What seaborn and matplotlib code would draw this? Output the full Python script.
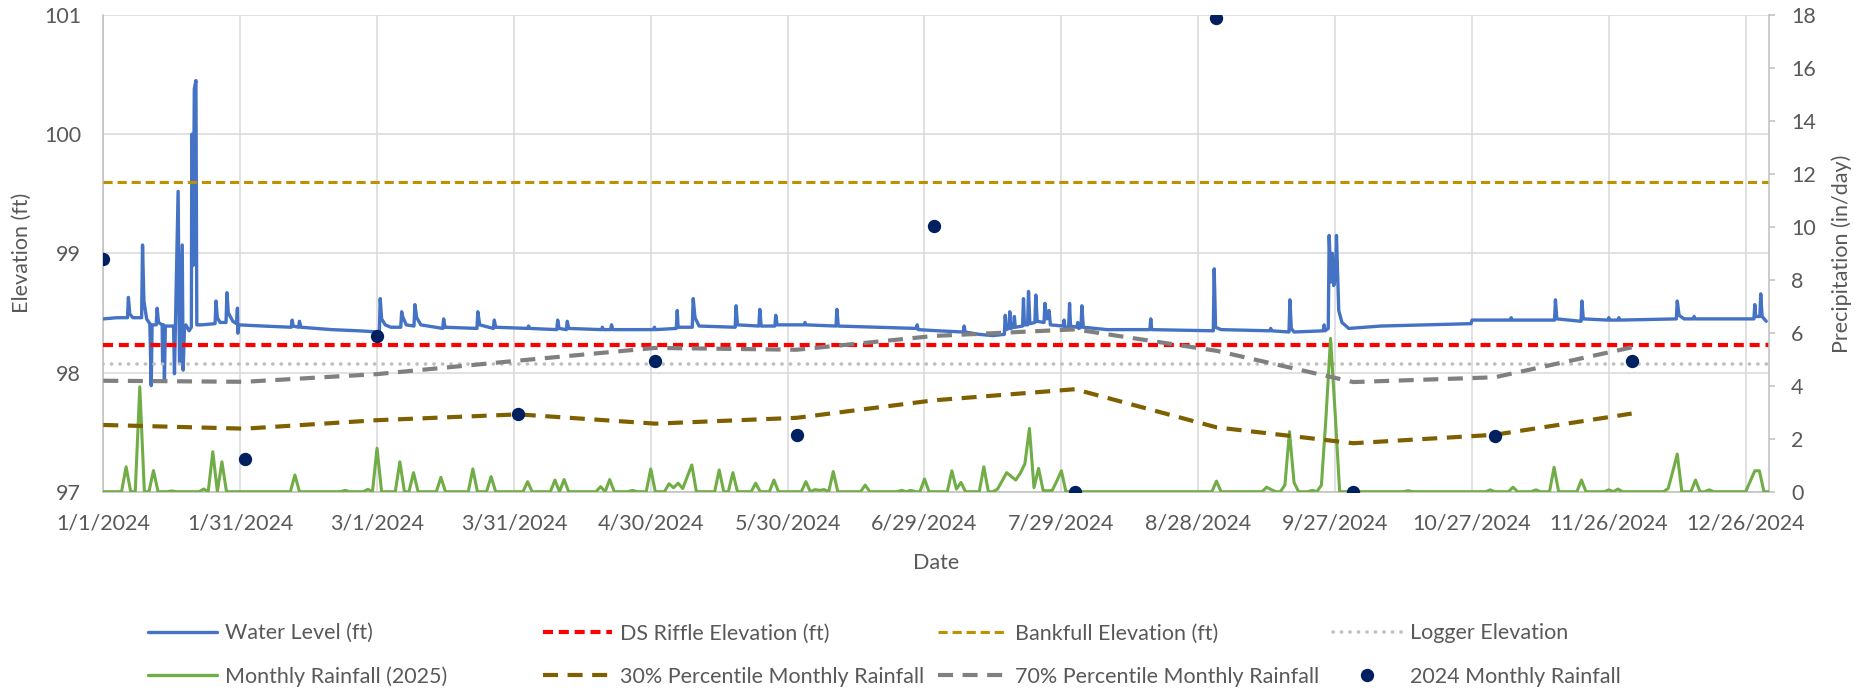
import numpy as np
import pandas as pd
import matplotlib
matplotlib.use("Agg")
import matplotlib.pyplot as plt
from matplotlib.lines import Line2D
from matplotlib.ticker import FuncFormatter
import seaborn as sns

# ---------------------------------------------------------------- data
START = pd.Timestamp("2024-01-01")
END = pd.Timestamp("2024-12-31")

# Logger water level: (days since 1/1/2024, elevation in ft)
wl_day = [
    0.0, 3.0, 5.3, 5.5, 5.8, 6.5,
    8.4, 8.6, 8.9, 9.5, 10.2, 10.5, 10.7, 11.6, 11.8, 12.1,
    12.9, 13.0, 13.2, 13.4, 13.6, 15.4, 15.6, 16.4, 16.7, 17.3, 17.5, 17.8, 18.1,
    18.8, 19.3, 19.4, 19.7, 19.95, 20.3, 20.5,
    21.5, 24.5, 24.7, 25.0, 25.6, 26.9, 27.1, 27.4, 28.4,
    29.2, 29.4, 29.5, 29.7,
    35.0, 41.2, 41.4, 41.6, 42.8, 43.0, 43.3,
    50.0, 56.0, 60.5, 60.7, 61.0, 61.8, 63.0,
    65.2, 65.4, 65.6, 66.4, 68.1, 68.3, 68.7, 69.6,
    74.4, 74.6, 74.9, 81.9, 82.1, 82.5, 85.5, 85.7, 86.0,
    93.0, 93.2, 93.5, 99.4, 99.6, 99.9, 101.5, 101.7, 102.0,
    109.2, 109.4, 109.6, 111.2, 111.4, 111.7, 120.6, 120.8, 121.0,
    125.6, 125.8, 126.0, 129.1, 129.3, 129.7, 130.6,
    138.5, 138.7, 139.0, 143.7, 143.9, 144.2, 147.2, 147.4, 147.7,
    153.6, 153.8, 154.0, 160.6, 160.8, 161.1,
    170.0, 178.2, 178.4, 178.6, 183.0, 188.5, 188.7, 188.9,
    192.0, 195.0, 197.5, 197.7, 197.9, 198.5, 198.7, 198.9,
    199.5, 199.7, 199.9, 201.5, 201.7, 201.9, 202.6, 202.8, 203.1,
    204.2, 204.4, 204.7, 206.2, 206.4, 206.8, 207.3, 207.6,
    210.4, 210.6, 210.8, 211.6, 211.8, 212.0, 213.4, 213.6, 213.8,
    214.3, 214.5, 214.8, 220.0, 229.4, 229.6, 229.8,
    243.3, 243.5, 243.8, 245.0, 255.7, 255.9, 256.1,
    259.9, 260.1, 260.4, 261.0, 267.4, 267.6, 267.8,
    268.5, 268.7, 269.1, 269.4, 269.7, 270.1, 270.3, 270.8, 271.5, 273.0,
    280.0, 299.8, 300.0, 308.4, 308.6, 308.8,
    318.1, 318.3, 318.6, 323.9, 324.1, 324.4,
    329.8, 330.0, 330.2, 332.0, 332.2, 332.4,
    344.8, 345.0, 345.4, 346.5, 348.5, 348.7, 348.9,
    361.8, 362.0, 362.2, 363.1, 363.3, 363.6, 364.5,
]
wl_ft = [
    98.45, 98.46, 98.46, 98.63, 98.49, 98.46,
    98.46, 99.07, 98.60, 98.45, 98.41, 97.89, 98.40, 98.40, 98.54, 98.42,
    98.40, 98.08, 98.40, 97.94, 98.39, 98.39, 97.99, 99.52, 98.08, 99.07, 98.02, 98.38, 98.40,
    98.35, 98.38, 100.00, 98.90, 100.38, 100.45, 98.40,
    98.40, 98.41, 98.60, 98.46, 98.42, 98.42, 98.67, 98.50, 98.43,
    98.41, 98.54, 98.33, 98.40,
    98.39, 98.38, 98.44, 98.39, 98.38, 98.43, 98.38,
    98.36, 98.35, 98.34, 98.62, 98.45, 98.40, 98.38,
    98.38, 98.51, 98.47, 98.40, 98.39, 98.57, 98.46, 98.40,
    98.37, 98.45, 98.38, 98.37, 98.51, 98.40, 98.37, 98.44, 98.38,
    98.37, 98.39, 98.37, 98.36, 98.44, 98.37, 98.36, 98.43, 98.37,
    98.36, 98.38, 98.36, 98.36, 98.40, 98.36, 98.36, 98.38, 98.36,
    98.37, 98.52, 98.38, 98.38, 98.62, 98.46, 98.39,
    98.38, 98.56, 98.40, 98.39, 98.53, 98.39, 98.39, 98.48, 98.40,
    98.40, 98.42, 98.40, 98.39, 98.53, 98.39,
    98.38, 98.37, 98.40, 98.36, 98.35, 98.34, 98.39, 98.34,
    98.32, 98.31, 98.32, 98.48, 98.36, 98.37, 98.51, 98.37,
    98.38, 98.47, 98.38, 98.39, 98.62, 98.40, 98.40, 98.68, 98.41,
    98.42, 98.65, 98.43, 98.42, 98.58, 98.45, 98.52, 98.40,
    98.39, 98.44, 98.38, 98.38, 98.58, 98.39, 98.38, 98.42, 98.37,
    98.38, 98.56, 98.38, 98.36, 98.36, 98.45, 98.36,
    98.35, 98.87, 98.38, 98.36, 98.35, 98.37, 98.35,
    98.34, 98.61, 98.37, 98.34, 98.35, 98.40, 98.35,
    98.37, 99.15, 98.76, 99.00, 98.73, 98.80, 99.15, 98.52, 98.42, 98.37,
    98.39, 98.41, 98.44, 98.44, 98.46, 98.44,
    98.44, 98.61, 98.45, 98.43, 98.60, 98.45,
    98.44, 98.46, 98.44, 98.44, 98.46, 98.44,
    98.45, 98.60, 98.48, 98.45, 98.45, 98.47, 98.45,
    98.45, 98.57, 98.47, 98.47, 98.66, 98.47, 98.43,
]

# Reference elevations (ft)
riffle_elev = 98.23
bankfull_elev = 99.60
logger_elev = 98.07

# Daily rainfall (in/day): days since 1/1/2024 with rain; all other days are 0
rain_day = [
    5, 8, 11, 15, 22, 24, 26, 42, 53, 58, 60,
    65, 68, 74, 81, 85, 93, 99, 101, 109, 111, 116, 120,
    124, 125, 126, 127, 128, 129, 135, 138, 143, 147, 154, 156, 157, 158,
    160, 167, 175, 177, 180, 186, 187, 188, 193, 196, 197, 198, 199, 200,
    201, 202, 203, 204, 205, 206, 207, 208, 209, 210,
    244, 255, 256, 259, 260, 261, 265, 267, 268, 269, 270,
    286, 304, 309, 314, 318, 324, 330, 332, 343, 344, 345, 349, 352,
    361, 362, 363,
]
rain_in = [
    0.94, 3.96, 0.80, 0.03, 0.10, 1.51, 1.13, 0.63, 0.05, 0.09, 1.64,
    1.13, 0.72, 0.54, 0.86, 0.57, 0.38, 0.44, 0.46, 0.19, 0.46, 0.05, 0.86,
    0.30, 0.15, 0.32, 0.12, 0.56, 1.01, 0.82, 0.72, 0.32, 0.44, 0.38, 0.08, 0.05, 0.08,
    0.76, 0.25, 0.05, 0.05, 0.48, 0.79, 0.10, 0.35, 0.94, 0.10, 0.40, 0.72, 0.58, 0.44,
    0.70, 1.05, 2.39, 0.15, 0.88, 0.05, 0.03, 0.05, 0.40, 0.79,
    0.40, 0.17, 0.08, 0.25, 2.27, 0.35, 0.05, 0.25, 2.80, 5.79, 3.00,
    0.04, 0.07, 0.17, 0.07, 0.92, 0.44, 0.07, 0.10, 0.12, 0.75, 1.42, 0.44, 0.07,
    0.40, 0.79, 0.79,
]

# Monthly statistics, plotted on the first of each month (in)
month_start = pd.date_range("2024-01-01", periods=12, freq="MS")
rain_2024 = [8.78, 1.23, 5.88, 2.92, 4.95, 2.14, 10.03, 0.0, 17.9, 0.0, 2.10, 4.93]
pct30 = [2.52, 2.38, 2.70, 2.92, 2.57, 2.79, 3.45, 3.87, 2.43, 1.83, 2.15, 2.95]
pct70 = [4.19, 4.15, 4.44, 4.95, 5.43, 5.36, 5.88, 6.13, 5.32, 4.14, 4.32, 5.45]

elev_ticks = [97, 98, 99, 100, 101]
precip_ticks = list(range(0, 19, 2))
date_ticks = pd.date_range(START, periods=13, freq="30D")

# ---------------------------------------------------------------- frames
wl_df = pd.DataFrame({"Date": START + pd.to_timedelta(wl_day, unit="D"),
                      "Level": wl_ft})
daily_dates = pd.date_range(START, END, freq="D")
rain_series = pd.Series(rain_in, index=START + pd.to_timedelta(rain_day, unit="D"))
rain_df = pd.DataFrame({"Date": daily_dates,
                        "Rain": rain_series.reindex(daily_dates, fill_value=0.0).values})
monthly_df = pd.DataFrame({"Date": month_start, "Rain2024": rain_2024,
                           "P30": pct30, "P70": pct70})

# ---------------------------------------------------------------- style
sns.set_theme(style="white")
plt.rcParams["font.family"] = ["Lato", "DejaVu Sans"]
TXT = "#595959"
GRID = "#D9D9D9"
AXIS = "#BFBFBF"
FS = 15.5

C_WL = "#4472C4"
C_RAIN = "#70AD47"
C_RIFFLE = "#FF0000"
C_BANK = "#BF9000"
C_LOGGER = "#BFBFBF"
C_P30 = "#7F6000"
C_P70 = "#808080"
C_DOT = "#002060"

LS_RIFFLE = (0, (2.4, 1.4))
LS_BANK = (0, (3.0, 1.6))
LS_LOGGER = (0, (0.05, 2.3))
LS_PCT = (0, (3.6, 2.3))

W, H = 1871, 692
fig = plt.figure(figsize=(W / 100, H / 100), dpi=100)
left, right, top, bottom = 103.3, 1768.5, 15.0, 491.7
ax = fig.add_axes([left / W, 1 - bottom / H, (right - left) / W, (bottom - top) / H])
ax2 = ax.twinx()

# ---------------------------------------------------------------- primary axis
sns.lineplot(data=wl_df, x="Date", y="Level", ax=ax, color=C_WL, lw=2.4,
             estimator=None, sort=False, zorder=3)
ax.axhline(riffle_elev, color=C_RIFFLE, lw=3.0, ls=LS_RIFFLE, zorder=3)
ax.axhline(bankfull_elev, color=C_BANK, lw=2.2, ls=LS_BANK, zorder=3)
ax.axhline(logger_elev, color=C_LOGGER, lw=2.6, ls=LS_LOGGER,
           dash_capstyle="round", zorder=3)

ax.set_xlim(START, END)
ax.set_ylim(97, 101)
ax.set_yticks(elev_ticks)
ax.set_xticks(date_ticks)
ax.xaxis.set_major_formatter(FuncFormatter(
    lambda v, _: (lambda d: f"{d.month}/{d.day}/{d.year}")(pd.Timestamp(
        matplotlib.dates.num2date(v)).tz_localize(None))))
ax.grid(True, color=GRID, lw=1.1, zorder=0)
ax.set_axisbelow(True)
for s in ["top", "right"]:
    ax.spines[s].set_visible(False)
for s in ["left", "bottom"]:
    ax.spines[s].set_color(AXIS)
    ax.spines[s].set_linewidth(1.1)
ax.tick_params(axis="x", length=0, pad=16, labelsize=FS, labelcolor=TXT)
ax.tick_params(axis="y", length=0, pad=16, labelsize=FS, labelcolor=TXT)
ax.set_xlabel("Date", fontsize=FS, color=TXT)
ax.set_ylabel("Elevation (ft)", fontsize=FS, color=TXT)
ax.xaxis.set_label_coords(0.5, (bottom - 563) / (bottom - top))
ax.xaxis.label.set_va("center")
ax.yaxis.set_label_coords((22 - left) / (right - left), 0.5)
ax.yaxis.label.set_va("center")
ax.yaxis.label.set_ha("center")

# ---------------------------------------------------------------- secondary axis
sns.lineplot(data=rain_df, x="Date", y="Rain", ax=ax2, color=C_RAIN, lw=2.2,
             estimator=None, sort=False, zorder=3)
sns.lineplot(data=monthly_df, x="Date", y="P30", ax=ax2, color=C_P30, lw=3.0,
             ls=LS_PCT, estimator=None, zorder=4)
sns.lineplot(data=monthly_df, x="Date", y="P70", ax=ax2, color=C_P70, lw=3.0,
             ls=LS_PCT, estimator=None, zorder=4)
sns.scatterplot(data=monthly_df, x="Date", y="Rain2024", ax=ax2, color=C_DOT,
                s=92, linewidth=0, zorder=5)

ax2.set_xlim(START, END)
ax2.set_ylim(0, 18)
ax2.set_yticks(precip_ticks)
ax2.grid(False)
for s in ["top", "left", "bottom"]:
    ax2.spines[s].set_visible(False)
ax2.spines["right"].set_color(AXIS)
ax2.spines["right"].set_linewidth(1.1)
ax2.tick_params(axis="y", length=4.3, width=1.1, color=AXIS, pad=12,
                labelsize=FS, labelcolor=TXT)
ax2.set_ylabel("Precipitation (in/day)", fontsize=FS, color=TXT)
ax2.yaxis.set_label_coords((1842 - left) / (right - left), 0.5)
ax2.yaxis.label.set_va("center")
ax2.yaxis.label.set_ha("center")

# ---------------------------------------------------------------- legend
h_wl = Line2D([], [], color=C_WL, lw=2.4)
h_rain = Line2D([], [], color=C_RAIN, lw=2.4)
h_riffle = Line2D([], [], color=C_RIFFLE, lw=3.0, ls=LS_RIFFLE)
h_p30 = Line2D([], [], color=C_P30, lw=3.0, ls=LS_PCT)
h_bank = Line2D([], [], color=C_BANK, lw=2.2, ls=LS_BANK)
h_p70 = Line2D([], [], color=C_P70, lw=3.0, ls=LS_PCT)
h_logger = Line2D([], [], color=C_LOGGER, lw=2.6, ls=LS_LOGGER, dash_capstyle="round")
h_dot = Line2D([], [], ls="none", marker="o", ms=9.6, color=C_DOT, mew=0)

columns = [
    (148, [h_wl, h_rain], ["Water Level (ft)", "Monthly Rainfall (2025)"]),
    (543, [h_riffle, h_p30], ["DS Riffle Elevation (ft)", "30% Percentile Monthly Rainfall"]),
    (938, [h_bank, h_p70], ["Bankfull Elevation (ft)", "70% Percentile Monthly Rainfall"]),
    (1333, [h_logger, h_dot], ["Logger Elevation", "2024 Monthly Rainfall"]),
]
for x0, handles, labels in columns:
    fig.legend(handles, labels, loc="center left",
               bbox_to_anchor=(x0 / W, 1 - 655 / H), frameon=False,
               fontsize=FS, labelcolor=TXT, handlelength=3.2,
               handletextpad=0.36, labelspacing=1.08, borderpad=0,
               borderaxespad=0)

fig.savefig("out.png", dpi=100)
